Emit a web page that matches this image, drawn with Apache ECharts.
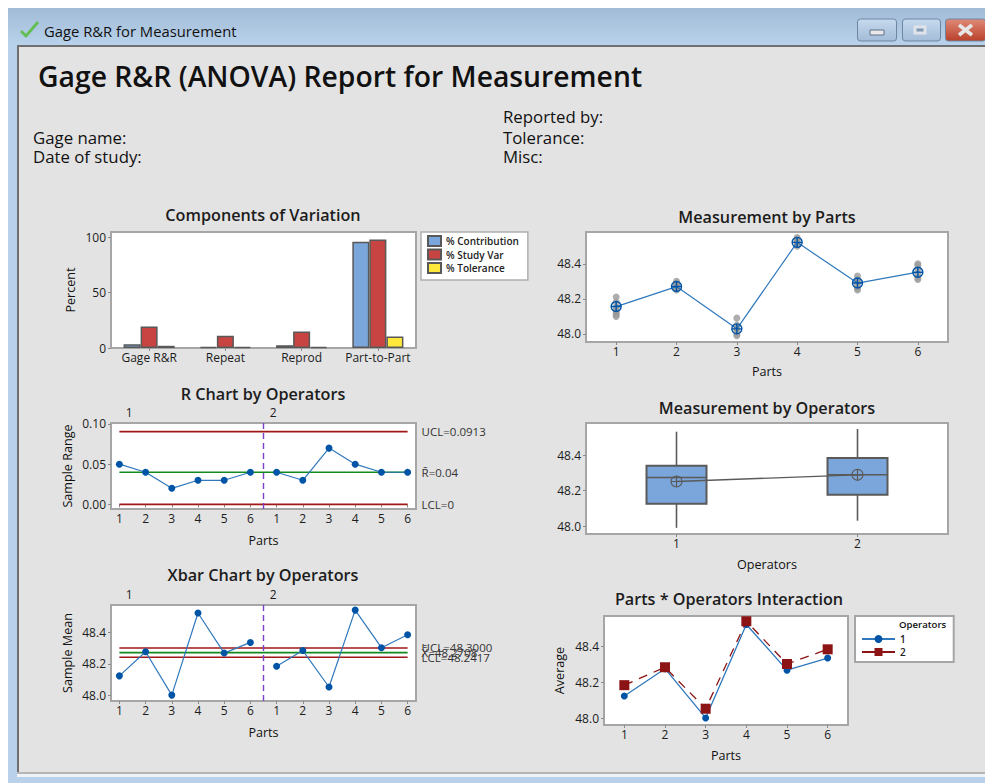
<!DOCTYPE html>
<html>
<head>
<meta charset="utf-8">
<style>html,body{margin:0;padding:0;background:#fff}#c{width:985px;height:783px}</style>
<script src="https://cdn.jsdelivr.net/npm/echarts@6/dist/echarts.min.js"></script>
</head>
<body>
<div id="c"></div>
<script>
const components = ['Gage R&R', 'Repeat', 'Reprod', 'Part-to-Part'];
const pctContribution = [3.5, 1, 2.5, 96];
const pctStudyVar = [19.5, 11, 15, 98];
const pctTolerance = [2, 1, 1, 10.5];

const parts = ['1', '2', '3', '4', '5', '6'];
const operators = ['1', '2'];

const rangeOp1 = [0.05, 0.04, 0.02, 0.03, 0.03, 0.04];
const rangeOp2 = [0.04, 0.03, 0.07, 0.05, 0.04, 0.04];
const rUCL = 0.0905, rBar = 0.04, rLCL = 0;

const meanOp1 = [48.125, 48.276, 48.004, 48.52, 48.268, 48.335];
const meanOp2 = [48.185, 48.284, 48.055, 48.538, 48.302, 48.383];
const xUCL = 48.3, xBar = 48.2708, xLCL = 48.2417;

const partMeans = [48.156, 48.27, 48.029, 48.522, 48.29, 48.352];
const partObservations = [
  [48.10, 48.11, 48.12, 48.13, 48.15, 48.18, 48.21],
  [48.25, 48.26, 48.27, 48.28, 48.29, 48.30],
  [47.99, 48.00, 48.02, 48.03, 48.05, 48.09],
  [48.50, 48.51, 48.52, 48.53, 48.54, 48.55],
  [48.25, 48.26, 48.28, 48.30, 48.31, 48.33],
  [48.31, 48.32, 48.34, 48.37, 48.39, 48.40]
];

// min, Q1, median, Q3, max
const boxOp1 = [47.99, 48.126, 48.274, 48.34, 48.532];
const boxOp2 = [48.03, 48.177, 48.289, 48.383, 48.547];
const operatorMeans = [48.251, 48.289];

const FONT = '"Open Sans","Noto Sans",sans-serif';
const TXT = '#1c1c1c', BLUE = '#0054A6', LINE = '#2F78BC', RED = '#A01818', GREEN = '#128A1E', DARK = '#8C1414';
const CROSS = 'path://M0,10a10,10 0 1,0 20,0a10,10 0 1,0 -20,0M10,0V20M0,10H20';

const grids = [
  {left: 111, top: 232, width: 305, height: 116},
  {left: 111, top: 423, width: 305, height: 86},
  {left: 111, top: 605, width: 305, height: 96},
  {left: 586, top: 232, width: 362, height: 110},
  {left: 586, top: 423, width: 362, height: 111},
  {left: 604, top: 616, width: 244, height: 109}
].map(g => Object.assign(g, {show: true, backgroundColor: '#fff', borderColor: '#a6a6a6', borderWidth: 2}));

const titleAt = (text, x, y) => ({text, left: x, top: y, padding: 0, textAlign: 'center',
  textStyle: {fontFamily: FONT, fontSize: 16.2, fontWeight: 600, color: TXT}});

const nameStyle = {fontFamily: FONT, fontSize: 12.6, fontWeight: 400, color: '#111'};
const labelBase = {fontFamily: FONT, fontSize: 12, color: TXT, margin: 5};
const xLabelBase = Object.assign({}, labelBase, {margin: 3});
const tickBase = {show: true, length: 3, lineStyle: {color: '#8a8a8a'}};

const catX = (gridIndex, data, name, gap) => ({
  type: 'category', gridIndex, data, name, nameLocation: 'middle', nameGap: gap, nameTextStyle: nameStyle,
  axisLine: {show: false}, axisTick: Object.assign({alignWithLabel: true}, tickBase),
  axisLabel: Object.assign({interval: 0}, xLabelBase), splitLine: {show: false}
});
const valX = (gridIndex, name, gap) => {
  const ticks = [1,2,3,4,5,6,7,8,9,10,11,12];
  return {
    type: 'value', gridIndex, min: 0.68, max: 12.32, name, nameLocation: 'middle', nameGap: gap, nameTextStyle: nameStyle,
    axisLine: {show: false}, axisTick: Object.assign({customValues: ticks}, tickBase), splitLine: {show: false},
    axisLabel: Object.assign({customValues: ticks, formatter: v => parts[(v - 1) % 6]}, xLabelBase)
  };
};
const opTop = gridIndex => ({
  type: 'value', gridIndex, position: 'top', min: 0.68, max: 12.32,
  axisLine: {show: false}, axisTick: {show: false}, splitLine: {show: false},
  axisLabel: Object.assign({}, labelBase, {customValues: [1.37, 6.87], formatter: v => v < 4 ? operators[0] : operators[1]})
});
const valY = (gridIndex, min, max, ticks, digits, name, gap) => ({
  type: 'value', gridIndex, min, max, name, nameLocation: 'middle', nameGap: gap, nameTextStyle: nameStyle,
  axisLine: {show: false}, axisTick: Object.assign({customValues: ticks}, tickBase), splitLine: {show: false},
  axisLabel: Object.assign({customValues: ticks, formatter: v => v.toFixed(digits)}, labelBase)
});

const bar = (name, data, color) => ({
  type: 'bar', name, data, xAxisIndex: 0, yAxisIndex: 0, barGap: 0, barCategoryGap: '33%',
  itemStyle: {color, borderColor: '#585858', borderWidth: 1.5}
});
const ctrl = (xi, yi, v, color, text) => ({
  type: 'line', xAxisIndex: xi, yAxisIndex: yi, data: [[1, v], [12, v]], showSymbol: false, symbol: 'none',
  lineStyle: {color, width: 1.6}, silent: true, z: 2,
  endLabel: {show: true, formatter: text, distance: 14, fontFamily: FONT, fontSize: 11.5, color: '#333'}
});
const runSeries = (xi, yi, vals, start) => ({
  type: 'line', xAxisIndex: xi, yAxisIndex: yi, data: vals.map((v, i) => [i + start, v]),
  symbol: 'circle', symbolSize: 7, lineStyle: {color: LINE, width: 1.2}, itemStyle: {color: BLUE}, z: 3
});
const divider = (xi, yi) => ({
  type: 'line', xAxisIndex: xi, yAxisIndex: yi, data: [], silent: true,
  markLine: {silent: true, symbol: 'none', label: {show: false}, data: [{xAxis: 6.5}],
    lineStyle: {color: '#7B3FC8', type: [6, 4], width: 1.4}, animation: false}
});

const boxSeries = {
  type: 'custom', xAxisIndex: 6, yAxisIndex: 4, z: 2,
  data: [[0].concat(boxOp1), [1].concat(boxOp2)],
  encode: {x: 0, y: [1, 2, 3, 4, 5]},
  renderItem(params, api) {
    const i = api.value(0), halfW = 30;
    const pt = k => api.coord([i, api.value(k)]);
    const [x, yMin] = pt(1), yQ1 = pt(2)[1], yMed = pt(3)[1], yQ3 = pt(4)[1], yMax = pt(5)[1];
    const stroke = {stroke: '#5a5a5a', lineWidth: 1.6, fill: null};
    return {type: 'group', children: [
      {type: 'line', shape: {x1: x, y1: yMin, x2: x, y2: yQ1}, style: stroke},
      {type: 'line', shape: {x1: x, y1: yQ3, x2: x, y2: yMax}, style: stroke},
      {type: 'rect', shape: {x: x - halfW, y: yQ3, width: 2 * halfW, height: yQ1 - yQ3},
        style: {fill: '#7BA6DB', stroke: '#5a5a5a', lineWidth: 2}},
      {type: 'line', shape: {x1: x - halfW, y1: yMed, x2: x + halfW, y2: yMed}, style: stroke}
    ]};
  }
};

const legendText = {fontFamily: FONT, fontSize: 10, fontWeight: 600, color: '#222', lineHeight: 10};

const rect = (x, y, w, h, fill, extra) => Object.assign({type: 'rect', z: -5, silent: true, shape: {x, y, width: w, height: h}, style: {fill}}, extra || {});
const grad = (a, b) => ({type: 'linear', x: 0, y: 0, x2: 0, y2: 1, colorStops: [{offset: 0, color: a}, {offset: 1, color: b}]});
const gText = (text, x, y, size, weight) => ({type: 'text', z: 20, silent: true, x, y,
  style: {text, fontFamily: FONT, fontSize: size, fontWeight: weight || 400, fill: '#111', textVerticalAlign: 'middle', verticalAlign: 'middle'}});
const btn = (x, w, a, b) => ({type: 'rect', z: -3, silent: true, shape: {x, y: 19, width: w, height: 22, r: 3},
  style: {fill: grad(a, b), stroke: '#6f86a3', lineWidth: 1}});

const graphic = [
  rect(8, 8, 977, 775, '#B9D1EA'),
  rect(8, 8, 977, 38, grad('#A1BAD6', '#BAD3EC')),
  rect(17, 45, 968, 728, '#6f6f6f', {z: -4}),
  rect(19, 47, 966, 726, '#E3E3E3', {z: -3}),
  rect(17, 772, 968, 2, '#b5b5b5', {z: -3}),
  rect(17, 774, 968, 3, '#eef3f8', {z: -3}),
  {type: 'polyline', z: -2, silent: true, shape: {points: [[21, 31], [26, 36], [38, 22]]}, style: {stroke: '#62BE52', lineWidth: 2.8, fill: null}},
  btn(857.5, 39, '#C6D9EE', '#A3BCD8'),
  btn(902.5, 38, '#C6D9EE', '#A3BCD8'),
  btn(945.5, 40, '#E08A78', '#B8402A'),
  rect(870, 30, 14, 5, '#E9E9E9', {z: -1, style: {fill: '#E9E9E9', stroke: '#5f7288', lineWidth: 1}}),
  rect(915, 27, 10, 6, '#7F97B5', {z: -1, style: {fill: '#7F97B5', stroke: '#dfe4ea', lineWidth: 3}}),
  {type: 'line', z: -1, silent: true, shape: {x1: 959, y1: 25, x2: 972, y2: 35}, style: {stroke: '#e6e6e6', lineWidth: 3.6}},
  {type: 'line', z: -1, silent: true, shape: {x1: 972, y1: 25, x2: 959, y2: 35}, style: {stroke: '#e6e6e6', lineWidth: 3.6}},
  gText('Gage R&R for Measurement', 44, 31, 14.8),
  gText('Gage R&R (ANOVA) Report for Measurement', 38, 76, 28.3, 600),
  gText('Gage name:', 33, 137, 16.8),
  gText('Date of study:', 33, 156, 16.8),
  gText('Reported by:', 503, 116, 16.8),
  gText('Tolerance:', 503, 137, 16.8),
  gText('Misc:', 503, 156, 16.8),
  gText('Operators', 899, 624, 9.6, 600)
];

const option = {
  animation: false,
  backgroundColor: '#fff',
  textStyle: {fontFamily: FONT},
  graphic,
  title: [
    titleAt('Components of Variation', 263, 207),
    titleAt('R Chart by Operators', 263, 386),
    titleAt('Xbar Chart by Operators', 263, 567),
    titleAt('Measurement by Parts', 767, 209),
    titleAt('Measurement by Operators', 767, 400),
    titleAt('Parts * Operators Interaction', 729, 591)
  ],
  legend: [
    {data: ['% Contribution', '% Study Var', '% Tolerance'], orient: 'vertical', left: 421, top: 232,
     padding: [3, 9, 6, 6], itemWidth: 13, itemHeight: 10, itemGap: 1.5, align: 'left', icon: 'rect',
     backgroundColor: '#fff', borderColor: '#b0b0b0', borderWidth: 1.5, textStyle: legendText, selectedMode: false},
    {data: [{name: operators[0]}, {name: operators[1], lineStyle: {type: 'solid'}}], orient: 'vertical', left: 855, top: 616,
     padding: [18, 48, 5, 6], itemWidth: 33, itemHeight: 10, itemGap: 3, align: 'left',
     backgroundColor: '#fff', borderColor: '#a6a6a6', borderWidth: 2, textStyle: legendText, selectedMode: false}
  ],
  grid: grids,
  xAxis: [
    catX(0, components, '', 0),
    valX(1, 'Parts', 25),
    opTop(1),
    valX(2, 'Parts', 25),
    opTop(2),
    catX(3, parts, 'Parts', 23),
    catX(4, operators, 'Operators', 24),
    catX(5, parts, 'Parts', 24)
  ],
  yAxis: [
    valY(0, 0, 104.8, [0, 50, 100], 0, 'Percent', 34),
    valY(1, -0.0057, 0.1012, [0, 0.05, 0.1], 2, 'Sample Range', 37),
    valY(2, 47.967, 48.57, [48, 48.2, 48.4], 1, 'Sample Mean', 37),
    valY(3, 47.954, 48.581, [48, 48.2, 48.4], 1, '', 0),
    valY(4, 47.955, 48.581, [48, 48.2, 48.4], 1, '', 0),
    valY(5, 47.965, 48.567, [48, 48.2, 48.4], 1, 'Average', 38)
  ],
  series: [
    bar('% Contribution', pctContribution, '#7BA6DB'),
    bar('% Study Var', pctStudyVar, '#C84442'),
    bar('% Tolerance', pctTolerance, '#FFE83C'),

    ctrl(1, 1, rUCL, RED, 'UCL=0.0913'),
    ctrl(1, 1, rLCL, RED, 'LCL=0'),
    runSeries(1, 1, rangeOp1, 1),
    runSeries(1, 1, rangeOp2, 7),
    ctrl(1, 1, rBar, GREEN, 'R\u0304=0.04'),
    divider(1, 1),

    ctrl(3, 2, xUCL, RED, 'UCL=48.3000'),
    ctrl(3, 2, xLCL, RED, 'LCL=48.2417'),
    ctrl(3, 2, xBar, GREEN, 'X\u0304\u0304=48.2708'),
    runSeries(3, 2, meanOp1, 1),
    runSeries(3, 2, meanOp2, 7),
    divider(3, 2),

    {type: 'scatter', xAxisIndex: 5, yAxisIndex: 3, symbolSize: 7, itemStyle: {color: '#9a9a9a'}, z: 2,
     data: partObservations.flatMap((vals, i) => vals.map(v => [i, v]))},
    {type: 'line', xAxisIndex: 5, yAxisIndex: 3, data: partMeans, symbol: CROSS, symbolSize: 10, z: 3,
     lineStyle: {color: LINE, width: 1.2}, itemStyle: {color: 'none', borderColor: BLUE, borderWidth: 1.4}},

    boxSeries,
    {type: 'line', xAxisIndex: 6, yAxisIndex: 4, data: operatorMeans, symbol: CROSS, symbolSize: 11, z: 3,
     lineStyle: {color: '#5a5a5a', width: 1.3}, itemStyle: {color: 'none', borderColor: '#5a5a5a', borderWidth: 1.2}},

    {type: 'line', name: operators[0], xAxisIndex: 7, yAxisIndex: 5, data: meanOp1, symbol: 'circle', symbolSize: 7, z: 3,
     lineStyle: {color: LINE, width: 1.3}, itemStyle: {color: BLUE}},
    {type: 'line', name: operators[1], xAxisIndex: 7, yAxisIndex: 5, data: meanOp2, symbol: 'rect', symbolSize: 10, z: 4,
     lineStyle: {color: DARK, width: 1.3, type: [9, 7]}, itemStyle: {color: DARK}}
  ]
};

const chart = echarts.init(document.getElementById('c'), null, {renderer: 'svg', width: 985, height: 783});
chart.setOption(option);
</script>
</body>
</html>
